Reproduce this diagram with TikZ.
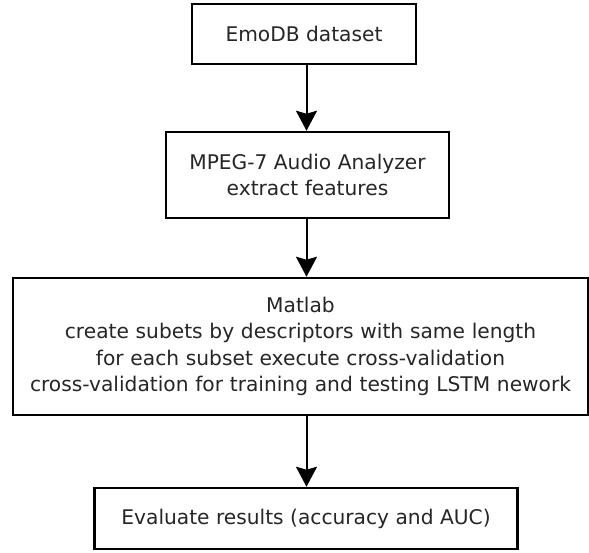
\documentclass[tikz,border=0pt]{standalone}
\usepackage{fontspec}
\setmainfont{DejaVu Sans}
\usetikzlibrary{arrows.meta}
\begin{document}
\begin{tikzpicture}[x=1pt,y=-1pt,
  box/.style={draw=black, line width=2.5pt, fill=white, inner sep=0pt, align=center,
    font=\fontsize{20.2pt}{26.5pt}\selectfont, text=black!85},
  conn/.style={line width=2pt, -{Stealth[width=21pt,length=20pt,inset=3pt]}}]
\useasboundingbox (0,0) rectangle (589,553);
\node[box, minimum width=224pt, minimum height=60pt] (b1) at (304,34) {EmoDB dataset};
\node[box, minimum width=283pt, minimum height=86pt] (b2) at (307.5,175) {MPEG-7 Audio Analyzer\\extract features};
\node[box, minimum width=575pt, minimum height=137pt, text width=570pt] (b3) at (300.5,346.5) {Matlab\\create subets by descriptors with same length\\for each subset execute cross-validation\\cross-validation for training and testing LSTM nework};
\node[box, minimum width=423pt, minimum height=61pt] (b4) at (306,518.5) {Evaluate results (accuracy and AUC)};
\coordinate (ax) at (306.5,0);
\draw[conn] (b1.south -| ax) -- (b2.north -| ax);
\draw[conn] (b2.south -| ax) -- (b3.north -| ax);
\draw[conn] (b3.south -| ax) -- (b4.north -| ax);
\end{tikzpicture}
\end{document}
